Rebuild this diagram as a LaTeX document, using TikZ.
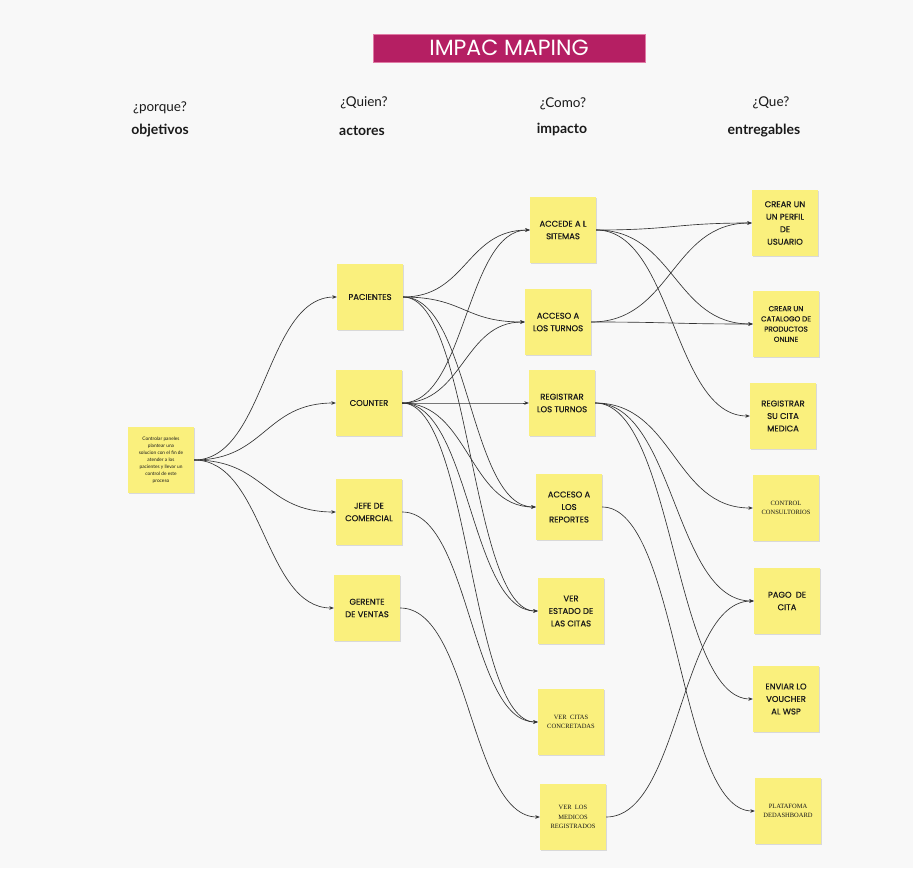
\documentclass[tikz,border=0pt]{standalone}
\usepackage{fontspec}
\setmainfont{Lato}
\newfontfamily\nfont[FakeBold=0.6]{Poppins}
\newfontfamily\sfont{Liberation Serif}
\newfontfamily\tfont{Poppins}
\usetikzlibrary{arrows.meta,calc,shadows}
\definecolor{bgc}{HTML}{F8F8F8}
\definecolor{notey}{HTML}{FAF07D}
\definecolor{titlec}{HTML}{B51F63}
\definecolor{titleb}{HTML}{E07AA5}
\definecolor{linec}{HTML}{333333}
\definecolor{textc}{HTML}{1A1A1A}
\tikzset{
  note/.style={fill=notey, minimum width=66pt, minimum height=66pt, inner sep=1pt,
    align=center, text=textc, font=\nfont\fontsize{8.4}{12.5}\selectfont,
    drop shadow={shadow xshift=0.6pt, shadow yshift=-0.8pt, opacity=0.12, fill=black}},
  snote/.style={note, font=\sfont\fontsize{6.5}{9.5}\selectfont},
  tnote/.style={note, font=\fontsize{4.8}{6.9}\selectfont},
  qhead/.style={font=\fontsize{13.5}{15}\selectfont, text=textc},
  bhead/.style={font=\bfseries\fontsize{14}{15}\selectfont, text=textc},
  conn/.style={draw=linec, line width=0.65pt, -{Stealth[length=4.5pt,width=3.6pt]}}
}
\newcommand\lnk[2]{\draw[conn] let \p1=(#1.east), \p2=(#2.west) in (\p1) .. controls ({(\x1+\x2)/2},\y1) and ({(\x1+\x2)/2},\y2) .. (\p2);}
\begin{document}
\begin{tikzpicture}[x=1pt,y=-1pt]
\useasboundingbox (0,0) rectangle (913,868);
\fill[bgc] (0,0) rectangle (913,868);
% title
\node[fill=titlec, draw=titleb, line width=0.8pt, minimum width=272pt, minimum height=28pt,
  text=white, font=\tfont\fontsize{22}{22}\selectfont, inner sep=0pt] (title) at (509,48) {IMPAC MAPING};
% headers
\node[qhead] (h1q) at (160,108) {¿porque?};
\node[bhead] (h1b) at (160,131) {objetivos};
\node[qhead] (h2q) at (364,103) {¿Quien?};
\node[bhead] (h2b) at (362,131) {actores};
\node[qhead] (h3q) at (563,104) {¿Como?};
\node[bhead] (h3b) at (562,129) {impacto};
\node[qhead] (h4q) at (771,103) {¿Que?};
\node[bhead] (h4b) at (764,131) {entregables};
% objective
\node[tnote] (obj) at (161,460) {Controlar paneles\\plantear una\\solucion con el fin de\\atender a los\\pacientes y llevar un\\control de este\\proceso};
% actors
\node[note] (pac) at (370,297) {PACIENTES};
\node[note] (cou) at (369,403) {COUNTER};
\node[note] (jefe) at (369,512) {JEFE DE\\COMERCIAL};
\node[note] (ger) at (367,608) {GERENTE\\DE VENTAS};
% impacts
\node[note] (acc) at (563,230) {ACCEDE A L\\SITEMAS};
\node[note] (tur) at (558,322) {ACCESO A\\LOS TURNOS};
\node[note] (reg) at (562,403) {REGISTRAR\\LOS TURNOS};
\node[note] (rep) at (569,507) {ACCESO A\\LOS\\REPORTES};
\node[note] (est) at (571,611) {VER\\ESTADO DE\\LAS CITAS};
\node[snote] (con) at (571,722) {VER\enspace CITAS\\CONCRETADAS};
\node[snote] (med) at (573,817) {VER\enspace LOS\\MEDICOS\\REGISTRADOS};
% deliverables
\node[note] (perf) at (785,223) {CREAR UN\\UN PERFIL\\DE\\USUARIO};
\node[note, font=\nfont\fontsize{7.2}{10.2}\selectfont] (cat) at (786,324) {CREAR UN\\CATALOGO DE\\PRODUCTOS\\ONLINE};
\node[note] (rcit) at (783,416) {REGISTRAR\\SU CITA\\MEDICA};
\node[snote] (ctl) at (786,508) {CONTROL\\CONSULTORIOS};
\node[note] (pago) at (787,601) {PAGO\enspace DE\\CITA};
\node[note] (vou) at (786,699) {ENVIAR LO\\VOUCHER\\AL WSP};
\node[snote] (plat) at (788,811) {PLATAFOMA\\DEDASHBOARD};
% connectors: objective -> actors
\lnk{obj}{pac}
\lnk{obj}{cou}
\lnk{obj}{jefe}
\lnk{obj}{ger}
% actors -> impacts
\lnk{pac}{acc}
\lnk{pac}{tur}
\lnk{pac}{rep}
\lnk{pac}{est}
\lnk{cou}{acc}
\lnk{cou}{tur}
\lnk{cou}{reg}
\lnk{cou}{rep}
\lnk{cou}{est}
\lnk{cou}{con}
\lnk{jefe}{con}
\lnk{ger}{med}
% impacts -> deliverables
\lnk{acc}{perf}
\lnk{acc}{cat}
\lnk{acc}{rcit}
\lnk{tur}{perf}
\lnk{tur}{cat}
\lnk{reg}{ctl}
\lnk{reg}{pago}
\lnk{reg}{vou}
\lnk{rep}{plat}
\lnk{med}{pago}
\end{tikzpicture}
\end{document}
